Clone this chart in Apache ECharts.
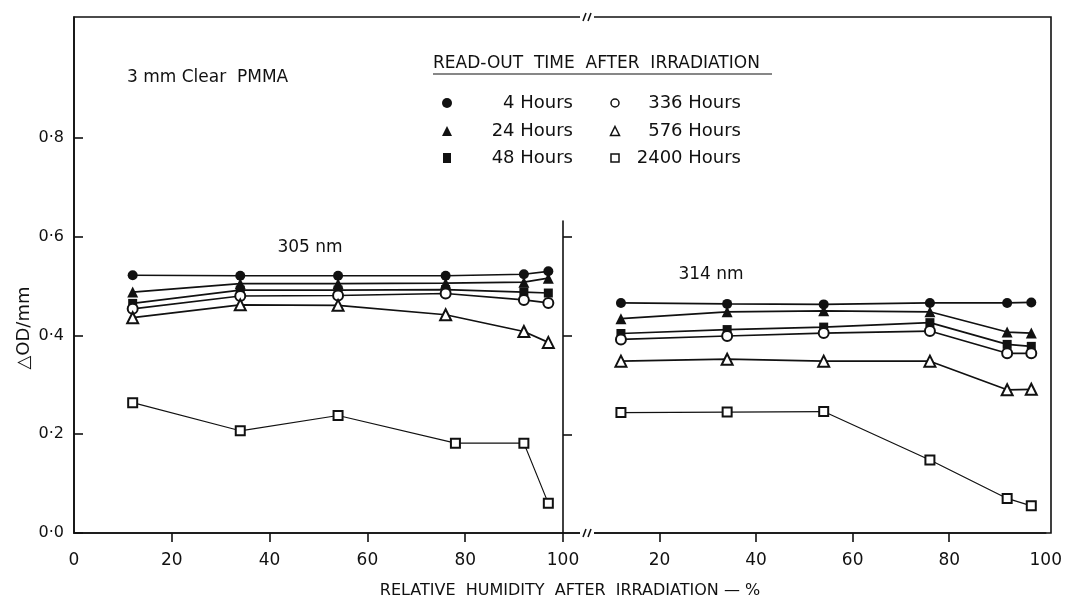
<!DOCTYPE html>
<html>
<head>
<meta charset="utf-8">
<title>PMMA read-out</title>
<script src="https://cdn.jsdelivr.net/npm/echarts@6/dist/echarts.min.js"></script>
<style>
    html, body { margin: 0; padding: 0; background: #fff; }
    #main { width: 1065px; height: 606px; }
</style>
</head>
<body>
<div id="main"></div>
<script>
    // relative humidity (%) of the read-out points
    var rhLeft = [12, 34, 54, 76, 92, 97];
    var rhLeft2400 = [12, 34, 54, 78, 92, 97];
    var rhRight = [12, 34, 54, 76, 92, 97];

    var hoursNames = ['4 Hours', '24 Hours', '48 Hours', '336 Hours', '576 Hours', '2400 Hours'];

    // delta OD / mm at 305 nm
    var od305_4 = [0.522, 0.521, 0.521, 0.521, 0.524, 0.530];
    var od305_24 = [0.488, 0.505, 0.505, 0.506, 0.508, 0.516];
    var od305_48 = [0.465, 0.492, 0.492, 0.493, 0.488, 0.486];
    var od305_336 = [0.454, 0.480, 0.481, 0.485, 0.472, 0.466];
    var od305_576 = [0.436, 0.462, 0.461, 0.442, 0.408, 0.386];
    var od305_2400 = [0.264, 0.207, 0.238, 0.182, 0.182, 0.060];

    // delta OD / mm at 314 nm
    var od314_4 = [0.466, 0.464, 0.463, 0.466, 0.466, 0.467];
    var od314_24 = [0.434, 0.448, 0.450, 0.448, 0.407, 0.405];
    var od314_48 = [0.404, 0.412, 0.417, 0.426, 0.382, 0.378];
    var od314_336 = [0.392, 0.399, 0.405, 0.409, 0.364, 0.364];
    var od314_576 = [0.348, 0.352, 0.348, 0.348, 0.290, 0.291];
    var od314_2400 = [0.244, 0.245, 0.246, 0.148, 0.070, 0.055];

    // ticks
    var yTicks = [0, 0.2, 0.4, 0.6, 0.8];
    var dividerTicks = [0.2, 0.4, 0.6];
    var xLabelsLeft = [0, 20, 40, 60, 80, 100];
    var xTicksLeft = [20, 40, 60, 80, 100];
    var xLabelsRight = [20, 40, 60, 80, 100];
    var xTicksRight = [20, 40, 60, 80];

    var INK = '#111';
    var FONT = 'DejaVu Sans';
    var symbols = ['circle', 'triangle', 'rect', 'emptyCircle', 'emptyTriangle', 'emptyRect'];
    var symbolSizes = [10, 11, 9, 10, 11, 9];

    var myChart = echarts.init(document.getElementById('main'), null, {renderer: 'canvas'});

    function pairs(xs, ys) {
        return xs.map(function (x, i) { return [x, ys[i]]; });
    }

    function makeSeries(idx, panel, xs, ys) {
        var empty = symbols[idx].indexOf('empty') === 0;
        return {
            name: hoursNames[idx],
            type: 'line',
            xAxisIndex: panel,
            yAxisIndex: panel,
            data: pairs(xs, ys),
            symbol: symbols[idx],
            symbolSize: symbolSizes[idx],
            showSymbol: true,
            animation: false,
            lineStyle: {color: INK, width: idx === 5 ? 1.2 : 1.7},
            itemStyle: {color: INK, borderColor: INK, borderWidth: empty ? 1.5 : 0},
            z: 3 + idx
        };
    }

    var left = [od305_4, od305_24, od305_48, od305_336, od305_576, od305_2400];
    var right = [od314_4, od314_24, od314_48, od314_336, od314_576, od314_2400];
    var series = [];
    left.forEach(function (ys, i) {
        series.push(makeSeries(i, 0, i === 5 ? rhLeft2400 : rhLeft, ys));
    });
    right.forEach(function (ys, i) {
        series.push(makeSeries(i, 1, rhRight, ys));
    });

    function yFmt(v) {
        return v.toFixed(1).replace('.', '\u00b7');
    }

    // legend drawn by hand: markers left, labels right-aligned
    var legendCols = [447, 615];
    var legendLabelRight = [573, 741];
    var legendRows = [103, 131, 158];
    var legendGraphics = [];
    hoursNames.forEach(function (name, i) {
        var col = Math.floor(i / 3), row = i % 3;
        var cx = legendCols[col], cy = legendRows[row];
        var s = symbols[i];
        var filled = s.indexOf('empty') !== 0;
        var st = filled ? {fill: INK} : {fill: '#fff', stroke: INK, lineWidth: 1.5};
        if (s.indexOf('ircle') > 0) {
            legendGraphics.push({type: 'circle', shape: {cx: cx, cy: cy, r: filled ? 5 : 4}, style: st});
        } else if (s.indexOf('riangle') > 0) {
            var h = filled ? 5 : 4.5;
            legendGraphics.push({type: 'polygon', shape: {points: [[cx, cy - h], [cx + h, cy + h], [cx - h, cy + h]]}, style: st});
        } else {
            var w = filled ? 8 : 8;
            legendGraphics.push({type: 'rect', shape: {x: cx - w / 2, y: cy - (filled ? 5 : 4), width: w, height: filled ? 10 : 8}, style: st});
        }
        legendGraphics.push({
            type: 'text', x: legendLabelRight[col], y: cy,
            style: {text: name, fill: INK, font: '18px ' + FONT, align: 'right', verticalAlign: 'middle'}
        });
    });

    function breakMark(x, y) {
        return [
            {type: 'rect', shape: {x: x - 7, y: y - 2, width: 14, height: 4}, style: {fill: '#fff'}, z: 20},
            {type: 'line', shape: {x1: x - 4, y1: y + 4, x2: x - 1, y2: y - 4}, style: {stroke: INK, lineWidth: 1.5}, z: 21},
            {type: 'line', shape: {x1: x + 1, y1: y + 4, x2: x + 4, y2: y - 4}, style: {stroke: INK, lineWidth: 1.5}, z: 21}
        ];
    }

    var texts = [
        {type: 'text', x: 127, y: 78, style: {text: '3 mm Clear  PMMA', fill: INK, font: '17px ' + FONT, verticalAlign: 'middle'}},
        {type: 'text', x: 433, y: 64, style: {text: 'READ-OUT  TIME  AFTER  IRRADIATION', fill: INK, font: '17px ' + FONT, verticalAlign: 'middle'}},
        {type: 'line', shape: {x1: 433, y1: 74, x2: 772, y2: 74}, style: {stroke: INK, lineWidth: 1.2}},
        {type: 'text', x: 310, y: 248, style: {text: '305 nm', fill: INK, font: '17px ' + FONT, align: 'center', verticalAlign: 'middle'}},
        {type: 'text', x: 711, y: 275, style: {text: '314 nm', fill: INK, font: '17px ' + FONT, align: 'center', verticalAlign: 'middle'}},
        {type: 'text', x: 570, y: 591, style: {text: 'RELATIVE  HUMIDITY  AFTER  IRRADIATION \u2014 %', fill: INK, font: '16px ' + FONT, align: 'center', verticalAlign: 'middle'}},
        {type: 'text', x: 24, y: 328, rotation: Math.PI / 2, style: {text: '\u25b3OD/mm', fill: INK, font: '18px ' + FONT, align: 'center', verticalAlign: 'middle'}}
    ];

    var axisLineStyle = {color: INK, width: 1.6};

    var option = {
        backgroundColor: '#fff',
        animation: false,
        textStyle: {fontFamily: FONT, color: INK},
        grid: [
            {left: 74, top: 17, width: 489, height: 516},
            {left: 563, top: 221, width: 488, height: 312},
            {left: 74, top: 17, width: 977, height: 516, show: true, borderColor: INK, borderWidth: 1.6, backgroundColor: 'transparent', z: 10}
        ],
        xAxis: [
            {
                type: 'value', gridIndex: 0, min: 0, max: 100,
                axisLine: {show: true, lineStyle: axisLineStyle},
                axisTick: {show: true, inside: false, length: 9, customValues: xTicksLeft, lineStyle: axisLineStyle},
                axisLabel: {customValues: xLabelsLeft, margin: 19, fontSize: 17, color: INK, fontFamily: FONT},
                splitLine: {show: false}
            },
            {
                type: 'value', gridIndex: 1, min: 0, max: 100,
                axisLine: {show: true, lineStyle: axisLineStyle},
                axisTick: {show: true, inside: false, length: 9, customValues: xTicksRight, lineStyle: axisLineStyle},
                axisLabel: {customValues: xLabelsRight, margin: 19, fontSize: 17, color: INK, fontFamily: FONT},
                splitLine: {show: false}
            },
            {type: 'value', gridIndex: 2, show: false}
        ],
        yAxis: [
            {
                type: 'value', gridIndex: 0, min: 0, max: 1.045,
                axisLine: {show: true, lineStyle: axisLineStyle},
                axisTick: {show: true, inside: true, length: 9, customValues: yTicks, lineStyle: axisLineStyle},
                axisLabel: {customValues: yTicks, formatter: yFmt, margin: 10, fontSize: 16, color: INK, fontFamily: FONT},
                splitLine: {show: false}
            },
            {
                type: 'value', gridIndex: 1, min: 0, max: 0.6319,
                axisLine: {show: true, lineStyle: axisLineStyle},
                axisTick: {show: true, inside: true, length: 9, customValues: dividerTicks, lineStyle: axisLineStyle},
                axisLabel: {show: false},
                splitLine: {show: false}
            },
            {type: 'value', gridIndex: 2, show: false}
        ],
        series: series,
        graphic: texts.concat(legendGraphics, breakMark(587, 17), breakMark(587, 533))
    };

    myChart.setOption(option);
</script>
</body>
</html>
